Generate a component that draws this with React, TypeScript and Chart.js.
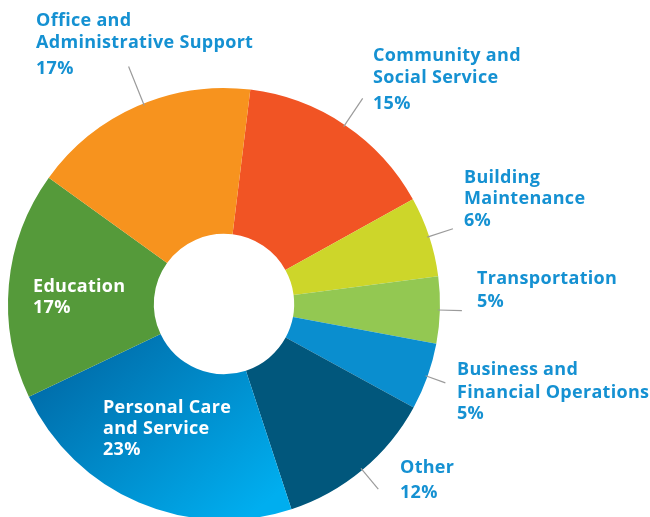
import React, { useEffect, useRef } from "react";
import { Chart, registerables } from "chart.js";

Chart.register(...registerables);

const categories = [
  "Community and Social Service",
  "Building Maintenance",
  "Transportation",
  "Business and Financial Operations",
  "Other",
  "Personal Care and Service",
  "Education",
  "Office and Administrative Support",
];
const shares = [15, 6, 5, 5, 12, 23, 17, 17];
const percentLabels = ["15%", "6%", "5%", "5%", "12%", "23%", "17%", "17%"];
const labelLines = [
  ["Community and", "Social Service"],
  ["Building", "Maintenance"],
  ["Transportation"],
  ["Business and", "Financial Operations"],
  ["Other"],
  ["Personal Care", "and Service"],
  ["Education"],
  ["Office and", "Administrative Support"],
];
const colors = [
  "#F15424",
  "#CDD62A",
  "#93C852",
  "#0A8ECF",
  "#01577C",
  "gradient",
  "#559A3A",
  "#F7931E",
];

// layout of the annotations: x, baselines of each line, leader length (0 = none), text colour
const labelLayout = [
  { x: 373, ys: [61, 83, 109], leader: 32, color: "#1591D2" },
  { x: 464, ys: [183, 204, 226], leader: 25, color: "#1591D2" },
  { x: 477, ys: [284, 307], leader: 22, color: "#1591D2" },
  { x: 457, ys: [375, 398, 419], leader: 19, color: "#1591D2" },
  { x: 400, ys: [473, 498], leader: 25, color: "#1591D2" },
  { x: 103, ys: [413, 434, 455], leader: 0, color: "#FFFFFF" },
  { x: 33, ys: [292, 313], leader: 0, color: "#FFFFFF" },
  { x: 36, ys: [26, 48, 74], leader: 40, color: "#1591D2" },
];

const FONT = '700 18px "Open Sans", sans-serif';

const labelPlugin = {
  id: "sliceLabels",
  afterDatasetsDraw(chart: any) {
    const ctx = chart.ctx;
    const meta = chart.getDatasetMeta(0);
    ctx.save();
    meta.data.forEach((arc: any, i: number) => {
      const lay = labelLayout[i];
      const p = arc.getProps(["x", "y", "startAngle", "endAngle", "outerRadius"], true);
      const mid = (p.startAngle + p.endAngle) / 2 + (i === 7 ? 0.03 : 0);
      if (lay.leader > 0) {
        ctx.strokeStyle = "#9B9B9B";
        ctx.lineWidth = 1.2;
        ctx.beginPath();
        ctx.moveTo(p.x + Math.cos(mid) * (p.outerRadius - 2), p.y + Math.sin(mid) * (p.outerRadius - 2));
        ctx.lineTo(
          p.x + Math.cos(mid) * (p.outerRadius + lay.leader),
          p.y + Math.sin(mid) * (p.outerRadius + lay.leader)
        );
        ctx.stroke();
      }
      ctx.fillStyle = lay.color;
      ctx.font = FONT;
      try {
        (ctx as any).letterSpacing = "0.3px";
      } catch (e) {}
      ctx.textAlign = "left";
      ctx.textBaseline = "alphabetic";
      const lines = [...labelLines[i], percentLabels[i]];
      lines.forEach((t, j) => ctx.fillText(t, lay.x, lay.ys[j]));
    });
    ctx.restore();
  },
};

export default function App() {
  const ref = useRef<HTMLCanvasElement>(null);
  useEffect(() => {
    document.body.style.margin = "0";
    document.body.style.overflow = "hidden";
    const canvas = ref.current!;
    const chart = new Chart(canvas, {
      type: "doughnut",
      data: {
        labels: categories,
        datasets: [
          {
            data: shares,
            borderWidth: 0,
            backgroundColor: (c: any) => {
              const col = colors[c.dataIndex];
              if (col !== "gradient") return col;
              const a = c.chart.chartArea;
              if (!a || !isFinite(a.left) || a.right - a.left <= 0) return "#0090D4";
              const x = (a.left + a.right) / 2;
              const y = (a.top + a.bottom) / 2;
              const r = Math.min(a.right - a.left, a.bottom - a.top) / 2;
              const g = c.chart.ctx.createLinearGradient(x - r * 0.6, y + r * 0.15, x + r * 0.1, y + r);
              g.addColorStop(0, "#006DAA");
              g.addColorStop(1, "#00AEEF");
              return g;
            },
          },
        ],
      },
      options: {
        responsive: false,
        animation: false,
        rotation: 7,
        cutout: "32.5%",
        layout: { padding: { left: 8, right: 210, top: 88, bottom: 20 } },
        plugins: {
          legend: { display: false },
          tooltip: { enabled: false },
        },
      },
      plugins: [labelPlugin],
    });
    return () => chart.destroy();
  }, []);
  return (
    <div style={{ position: "fixed", left: 0, top: 0, width: 650, height: 540 }}>
      <canvas ref={ref} width={650} height={540} style={{ width: 650, height: 540 }} />
    </div>
  );
}
